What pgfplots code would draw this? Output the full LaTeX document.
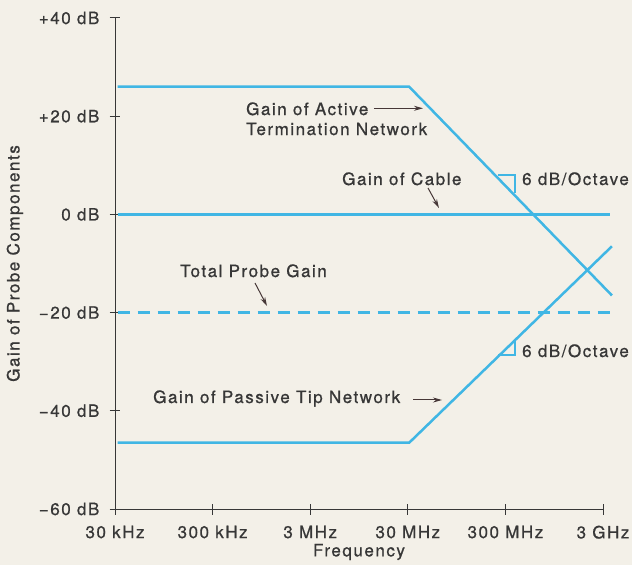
\documentclass[border=0pt]{standalone}
\usepackage{pgfplots}
\pgfplotsset{compat=1.18}
\usepackage{fontspec}
\setmainfont[LetterSpace=9,FakeBold=0.8]{TeX Gyre Heros}
\usetikzlibrary{arrows.meta}
\definecolor{bg}{RGB}{243,240,232}
\definecolor{cy}{RGB}{64,182,228}
\definecolor{tx}{RGB}{55,55,55}
\definecolor{ar}{RGB}{70,55,55}
\newcommand{\lf}{\fontsize{17}{20}\selectfont}
\begin{document}
\begin{tikzpicture}
\fill[bg] (-115pt,-56pt) rectangle (517pt,509pt);
\begin{axis}[
  xmode=log,
  scale only axis,
  width=488pt, height=491pt,
  xmin=3e4, xmax=3e9, ymin=-60, ymax=40,
  axis lines*=left,
  axis line style={draw=tx, line width=1pt},
  clip=false,
  xtick={3e4,3e5,3e6,3e7,3e8,3e9},
  xticklabels={30 kHz,300 kHz,3 MHz,30 MHz,300 MHz,3 GHz},
  ytick={-60,-40,-20,0,20,40},
  yticklabels={−60 dB,−40 dB,−20 dB,0 dB,+20 dB,+40 dB},
  xminorticks=false, yminorticks=false,
  tick align=center, major tick length=11pt,
  tick style={draw=tx, line width=1pt},
  xticklabel style={font=\lf, text=tx, anchor=north, inner sep=0pt, yshift=-11pt},
  yticklabel style={font=\lf, text=tx, anchor=east, inner sep=0pt, xshift=-10pt},
  every axis x label/.style={at={(axis description cs:0.5,-0.0876)}, anchor=center, font=\lf, text=tx},
  every axis y label/.style={at={(axis description cs:-0.205,0.5)}, rotate=90, anchor=center, font=\lf, text=tx},
  xlabel={Frequency},
  ylabel={Gain of Probe Components},
]
% Active termination network
\addplot[cy, line width=2.5pt] coordinates {(3.2e4,26) (3.1e7,26) (3.7e9,-16.5)};
% Passive tip network
\addplot[cy, line width=2.5pt] coordinates {(3.2e4,-46.5) (3.1e7,-46.5) (3.7e9,-6.5)};
% Cable
\addplot[cy, line width=2.5pt] coordinates {(3.2e4,0) (3.5e9,0)};
% Total probe gain
\addplot[cy, line width=2.5pt, dash pattern=on 12pt off 8pt] coordinates {(3.2e4,-20) (3.5e9,-20)};

% slope triangles
\draw[cy, line width=1.8pt] (rel axis cs:0.7848,0.6802) -- (rel axis cs:0.8197,0.6802) -- (rel axis cs:0.8197,0.6436);
\draw[cy, line width=1.8pt] (rel axis cs:0.8197,0.3442) -- (rel axis cs:0.8197,0.3136) -- (rel axis cs:0.7848,0.3136);

% annotations
\node[font=\lf, text=tx, anchor=base west, inner sep=0pt] at (rel axis cs:0.2684,0.8024) {Gain of Active};
\node[font=\lf, text=tx, anchor=base west, inner sep=0pt] at (rel axis cs:0.2684,0.7617) {Termination Network};
\draw[ar, line width=1pt, -{Stealth[length=9pt,width=5pt]}] (rel axis cs:0.5307,0.8161) -- (rel axis cs:0.6311,0.8161);

\node[font=\lf, text=tx, anchor=base west, inner sep=0pt] at (rel axis cs:0.4652,0.6599) {Gain of Cable};
\draw[ar, line width=1pt, -{Stealth[length=9pt,width=5pt]}] (rel axis cs:0.6414,0.6538) -- (rel axis cs:0.6639,0.6130);

\node[font=\lf, text=tx, anchor=base west, inner sep=0pt] at (rel axis cs:0.834,0.6599) {6 dB/Octave};
\node[font=\lf, text=tx, anchor=base west, inner sep=0pt] at (rel axis cs:0.834,0.3096) {6 dB/Octave};

\node[font=\lf, text=tx, anchor=base west, inner sep=0pt] at (rel axis cs:0.1332,0.4725) {Total Probe Gain};
\draw[ar, line width=1pt, -{Stealth[length=9pt,width=5pt]}] (rel axis cs:0.2869,0.4603) -- (rel axis cs:0.3115,0.4134);

\node[font=\lf, text=tx, anchor=base west, inner sep=0pt] at (rel axis cs:0.0779,0.2159) {Gain of Passive Tip Network};
\draw[ar, line width=1pt, -{Stealth[length=9pt,width=5pt]}] (rel axis cs:0.6107,0.222) -- (rel axis cs:0.6701,0.222);
\end{axis}
\pgfresetboundingbox
\path (-115pt,-56pt) rectangle (517pt,509pt);
\end{tikzpicture}
\end{document}
